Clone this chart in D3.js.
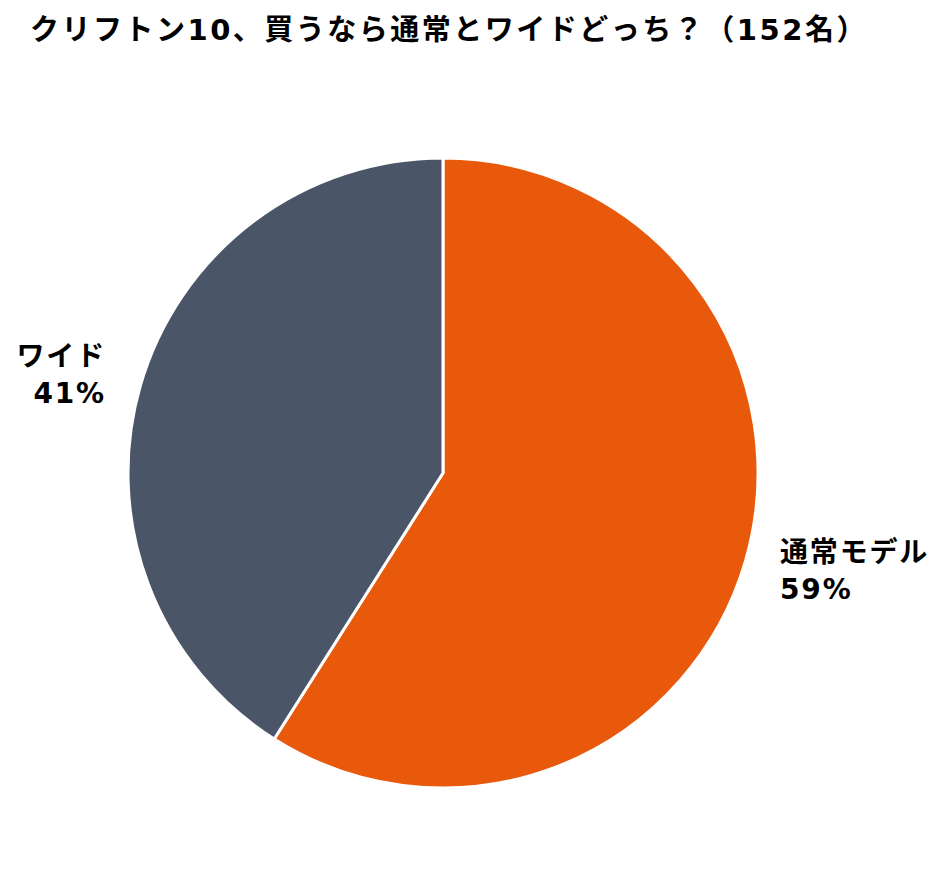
<!DOCTYPE html>
<html>
<head>
<meta charset="utf-8">
<script src="https://cdn.jsdelivr.net/npm/d3@7"></script>
<style>
  body { margin: 0; background: #fff; }
  text { font-family: "DejaVu Sans", "Noto Sans CJK JP", sans-serif; font-weight: bold; fill: #000; }
</style>
</head>
<body>
<div id="chart"></div>
<script>
var categories = ["通常モデル", "ワイド"];
var values = [59, 41];
var colors = ["#E8590C", "#4A5568"];
var title = "クリフトン10、買うなら通常とワイドどっち？（152名）";

var width = 949,
  height = 885,
  cx = 443,
  cy = 473,
  radius = 315;

var svg = d3
  .select("#chart")
  .append("svg")
  .attr("width", width)
  .attr("height", height);

svg
  .append("text")
  .attr("x", 30)
  .attr("y", 40)
  .style("font-size", "29px")
  .style("letter-spacing", "2.5px")
  .text(title);

var data = categories.map(function (c, i) {
  return { name: c, value: values[i], color: colors[i] };
});

var pie = d3.pie().sort(null).value(function (d) {
  return d.value;
});

var arc = d3.arc().innerRadius(0).outerRadius(radius);
var labelArc = d3.arc().innerRadius(351).outerRadius(351);

var g = svg.append("g").attr("transform", "translate(" + cx + "," + cy + ")");

var arcs = pie(data);

g.selectAll("path")
  .data(arcs)
  .enter()
  .append("path")
  .attr("d", arc)
  .attr("fill", function (d) {
    return d.data.color;
  })
  .attr("stroke", "#fff")
  .attr("stroke-width", 3)
  .attr("stroke-linejoin", "round");

var labels = g
  .selectAll(".label")
  .data(arcs)
  .enter()
  .append("text")
  .attr("class", "label")
  .attr("transform", function (d) {
    return "translate(" + labelArc.centroid(d) + ")";
  })
  .style("font-size", "28px")
  .style("letter-spacing", "1.8px")
  .attr("text-anchor", function (d) {
    var mid = (d.startAngle + d.endAngle) / 2;
    return mid < Math.PI ? "start" : "end";
  });

labels
  .append("tspan")
  .attr("x", 0)
  .attr("y", -9)
  .text(function (d) {
    return d.data.name;
  });

labels
  .append("tspan")
  .attr("x", 0)
  .attr("y", 28)
  .text(function (d) {
    return d.data.value + "%";
  });
</script>
</body>
</html>
